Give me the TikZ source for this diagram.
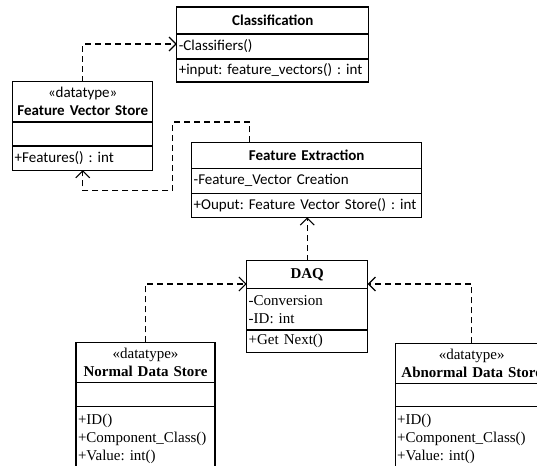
\documentclass[tikz,border=0pt]{standalone}
\usepackage{fontspec}
\setmainfont{Liberation Serif}
\newfontfamily\carl{Carlito}
\frenchspacing
\usetikzlibrary{arrows.meta,positioning}
\tikzset{
  cmp/.style={draw,line width=1.1pt,inner xsep=2pt,inner ysep=0pt,outer sep=0pt,align=left},
  hd/.style={cmp,align=center},
  sf/.style={font=\carl\fontsize{15}{18}\selectfont\frenchspacing},
  rm/.style={font=\fontsize{15}{18}\selectfont\frenchspacing},
  dep/.style={-{Straight Barb[length=7pt,width=14pt]},line width=1.1pt,dash pattern=on 6pt off 4pt}
}
\begin{document}
\begin{tikzpicture}[x=1pt,y=-1pt]
\useasboundingbox (0,0) rectangle (537,465);
\clip (0,0) rectangle (537,465);
\node[hd,sf,text width=188pt,minimum height=27pt] (cls) at (272.8,20.5) {\bfseries Classification};
\node[cmp,sf,text width=188pt,minimum height=25pt,below=0pt of cls] (clsA) {-Classifiers()};
\node[cmp,sf,text width=188pt,minimum height=23pt,below=0pt of clsA] (clsO) {+input: feature\_vectors() : int};
\node[hd,sf,text width=136pt,minimum height=40.5pt] (fvs) at (82.7,101.8) {«datatype»\\\textbf{Feature Vector Store}};
\node[cmp,sf,text width=136pt,minimum height=24pt,below=0pt of fvs] (fvsA) {};
\node[cmp,sf,text width=136pt,minimum height=24pt,below=0pt of fvsA] (fvsO) {+Features() : int};
\node[hd,sf,text width=226pt,minimum height=26pt] (fe) at (306.7,155.3) {\bfseries Feature Extraction};
\node[cmp,sf,text width=226pt,minimum height=25pt,below=0pt of fe] (feA) {-Feature\_Vector Creation};
\node[cmp,sf,text width=226pt,minimum height=24pt,below=0pt of feA] (feO) {+Ouput: Feature Vector Store() : int};
\node[hd,rm,text width=117pt,minimum height=27.6pt] (daq) at (307.2,274.5) {\bfseries DAQ};
\node[cmp,rm,text width=117pt,minimum height=41.7pt,below=0pt of daq] (daqA) {-Conversion\\-ID: int};
\node[cmp,rm,text width=117pt,minimum height=22.3pt,below=0pt of daqA] (daqO) {+Get Next()};
\node[hd,rm,text width=135pt,minimum height=40.4pt] (nds) at (145.5,362.5) {«datatype»\\\textbf{Normal Data Store}};
\node[cmp,rm,text width=135pt,minimum height=24pt,below=0pt of nds] (ndsA) {};
\node[cmp,rm,text width=135pt,minimum height=65pt,below=0pt of ndsA] (ndsO) {+ID()\\+Component\_Class()\\+Value: int()};
\node[hd,rm,text width=149pt,minimum height=40pt] (ads) at (471.7,363.3) {«datatype»\\\makebox[0pt]{\bfseries Abnormal Data Store}};
\node[cmp,rm,text width=149pt,minimum height=23.4pt,below=0pt of ads] (adsA) {};
\node[cmp,rm,text width=149pt,minimum height=65pt,below=0pt of adsA] (adsO) {+ID()\\+Component\_Class()\\+Value: int()};
\draw[dep] (fvs.north) |- ([yshift=2.5pt]clsA.west);
\draw[dep] ([xshift=-57.4pt]fe.north) -- ++(0,-20.3) -- ++(-76.4,0) -- ++(0,68.7) -| (fvsO.south);
\draw[dep] (daq.north) -- (daq.north |- feO.south);
\draw[dep] (nds.north) |- ([yshift=-9.5pt]daq.west);
\draw[dep] (ads.north) |- ([yshift=-9.5pt]daq.east);
\end{tikzpicture}
\end{document}
